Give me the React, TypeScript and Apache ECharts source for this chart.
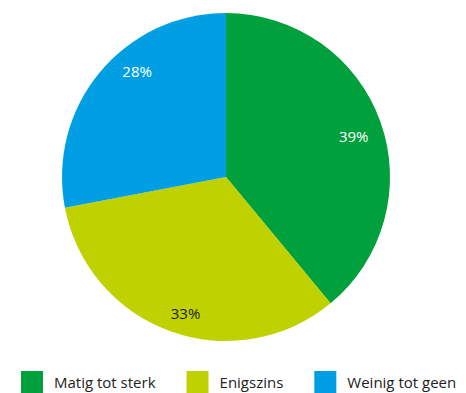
import React, { useEffect, useRef } from "react";
import * as echarts from "echarts";

const categories = ["Matig tot sterk", "Enigszins", "Weinig tot geen"];
const values = [39, 33, 28];
const colors = ["#00A03C", "#BFD200", "#009FE3"];
const labelColors = ["#ffffff", "#1a1a1a", "#ffffff"];
const labelOffsets = [[-4, 6], [7, 4], [19, -17]];

export default function App() {
  const ref = useRef<HTMLDivElement>(null);
  useEffect(() => {
    const chart = echarts.init(ref.current!, null, { renderer: "svg" });
    const font = "'Open Sans', sans-serif";
    const data = categories.map((c, i) => ({
      name: c,
      value: values[i],
      itemStyle: { color: colors[i] },
    }));
    chart.setOption({
      animation: false,
      legend: {
        data: categories,
        left: 21,
        top: 371,
        padding: 0,
        itemWidth: 22,
        itemHeight: 22,
        itemGap: 31,
        icon: "rect",
        selectedMode: false,
        textStyle: { fontFamily: font, fontSize: 15, color: "#222", padding: [0, 0, 0, 6] },
      },
      series: [
        {
          type: "pie",
          center: [226, 177],
          radius: [0, 164],
          startAngle: 90,
          clockwise: true,
          label: { show: false },
          labelLine: { show: false },
          data,
        },
        {
          type: "pie",
          center: [226, 177],
          radius: [110, 164],
          startAngle: 90,
          clockwise: true,
          silent: true,
          itemStyle: { color: "transparent", borderWidth: 0 },
          label: {
            show: true,
            position: "inside",
            fontFamily: font,
            fontSize: 15,
            formatter: (p: any) => p.value + "%",
          },
          labelLine: { show: false },
          data: categories.map((c, i) => ({
            name: c,
            value: values[i],
            itemStyle: { color: "transparent" },
            label: { color: labelColors[i], offset: labelOffsets[i] },
          })),
        },
      ],
    });
    return () => chart.dispose();
  }, []);
  return (
    <div
      ref={ref}
      style={{ position: "fixed", left: 0, top: 0, width: 466, height: 393, background: "#fff" }}
    />
  );
}
